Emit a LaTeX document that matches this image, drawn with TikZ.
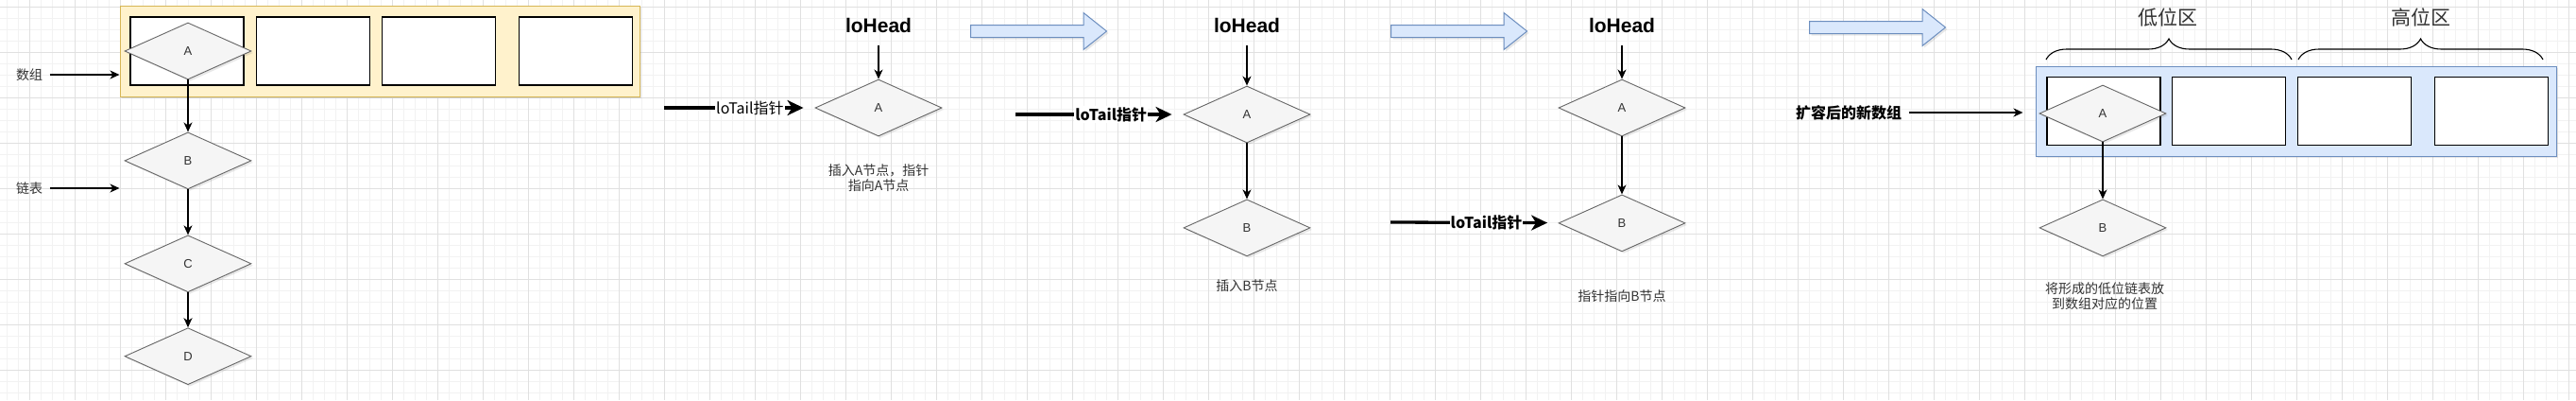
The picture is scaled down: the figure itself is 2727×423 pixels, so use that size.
\documentclass[tikz,border=0pt]{standalone}
\usepackage{fontspec}
\setmainfont{Liberation Sans}
\newfontfamily\cjk{Noto Sans CJK SC}
\usepackage{tikz}
\usetikzlibrary{shapes.geometric,shapes.arrows,arrows.meta,positioning,calc,shadows,decorations.pathreplacing}
\definecolor{GRIDMINOR}{HTML}{F2F2F2}
\definecolor{GRIDMAJOR}{HTML}{E0E0E0}
\definecolor{NODEFILL}{HTML}{F5F5F5}
\definecolor{NODELINE}{HTML}{666666}
\definecolor{TEXTGRAY}{HTML}{333333}
\definecolor{YELLOWFILL}{HTML}{FFF2CC}
\definecolor{YELLOWLINE}{HTML}{D6B656}
\definecolor{BLUEFILL}{HTML}{DAE8FC}
\definecolor{BLUELINE}{HTML}{6C8EBF}
\tikzstyle{ARROW} = [draw, line width=1.2pt, -{Stealth[length=10pt,width=9pt,inset=3pt]}]
\tikzstyle{THICK_ARROW} = [draw, line width=3.3pt, -{Stealth[length=17pt,width=16pt,inset=5pt]}, shorten >=12pt]
\tikzstyle{SHADOW} = [drop shadow={opacity=0.18, shadow xshift=2pt, shadow yshift=-2pt}]

\begin{document}
\begin{tikzpicture}[x=1pt, y=-1pt, node distance=60pt]
% Define
\tikzstyle{DIAMOND_1} = [diamond, draw=NODELINE, fill=NODEFILL, line width=0.9pt, minimum width=134pt, minimum height=60pt, inner sep=0pt, text=TEXTGRAY, font=\fontsize{13}{15}\selectfont, SHADOW]
\tikzstyle{CELL} = [rectangle, draw=black, fill=white, line width=1.2pt, minimum width=120pt, minimum height=72pt, inner sep=0pt]
\tikzstyle{ARRAY_1} = [rectangle, draw=YELLOWLINE, fill=YELLOWFILL, line width=1pt, minimum width=550pt, minimum height=96pt, SHADOW]
\tikzstyle{ARRAY_2} = [rectangle, draw=BLUELINE, fill=BLUEFILL, line width=1pt, minimum width=551pt, minimum height=95pt, SHADOW]
\tikzstyle{BIG_ARROW} = [single arrow, draw=BLUELINE, fill=BLUEFILL, line width=1pt, minimum height=144pt, minimum width=38pt, inner sep=6pt, single arrow head extend=13pt, single arrow tip angle=77, anchor=tail, SHADOW]
\tikzstyle{HEAD_1} = [font=\bfseries\fontsize{21}{25}\selectfont, inner sep=0pt]
\tikzstyle{TEXT_1} = [font=\cjk\fontsize{14}{16}\selectfont, text=TEXTGRAY, align=center]
\tikzstyle{TEXT_2} = [font=\cjk\bfseries\fontsize{16}{18}\selectfont, text=black]
\tikzstyle{ZONE} = [font=\cjk\fontsize{21}{24}\selectfont, text=TEXTGRAY]
\tikzstyle{TAIL_1} = [fill=white, inner sep=1pt, pos=0.57, font=\cjk\fontsize{16}{18}\selectfont]
\tikzstyle{TAIL_2} = [fill=white, inner sep=1pt, pos=0.57, font=\cjk\bfseries\fontsize{16}{18}\selectfont]
\tikzstyle{BRACE} = [draw, line width=1.1pt, decorate, decoration={brace, amplitude=22pt}]
% Grid
\useasboundingbox (0,0) rectangle (2727,423);
\fill [white] (0,0) rectangle (2727,423);
\foreach \x in {7,19,...,2719} \draw [GRIDMINOR, line width=0.8pt] (\x,0) -- (\x,423);
\foreach \y in {7,19,...,415} \draw [GRIDMINOR, line width=0.8pt] (0,\y) -- (2727,\y);
\foreach \x in {31,79,...,2719} \draw [GRIDMAJOR, line width=0.8pt] (\x,0) -- (\x,423);
\foreach \y in {7,55,...,415} \draw [GRIDMAJOR, line width=0.8pt] (0,\y) -- (2727,\y);
% Place node
\node [ARRAY_1] (OLD_ARRAY) at (402,54) {};
\node [CELL] (OLD_1) at (198,54) {};
\node [CELL, right=12pt of OLD_1] (OLD_2) {};
\node [CELL, right=12pt of OLD_2] (OLD_3) {};
\node [CELL, right=24pt of OLD_3] (OLD_4) {};
\node [DIAMOND_1] (A_1) at (199,54) {A};
\node [DIAMOND_1, below=55pt of A_1] (B_1) {B};
\node [DIAMOND_1, below=48pt of B_1] (C_1) {C};
\node [DIAMOND_1, below=37pt of C_1] (D_1) {D};
\node [TEXT_1] (LABEL_OLD) at (31,79) {数组};
\node [TEXT_1] (LABEL_LIST) at (31,199) {链表};
%
\node [HEAD_1] (HEAD_2) at (930,27) {loHead};
\node [DIAMOND_1] (A_2) at (930,114) {A};
\node [TEXT_1] (NOTE_2) at (930,188) {插入A节点，指针\\指向A节点};
\coordinate (TAIL_2) at (703,114);
%
\node [BIG_ARROW] (STEP_1) at (1027,33) {};
\node [HEAD_1] (HEAD_3) at (1320,27) {loHead};
\node [DIAMOND_1] (A_3) at (1320,121) {A};
\node [DIAMOND_1, below=59pt of A_3] (B_3) {B};
\node [TEXT_1] (NOTE_3) at (1320,302) {插入B节点};
\coordinate (TAIL_3) at (1075,121);
%
\node [BIG_ARROW] (STEP_2) at (1472,33) {};
\node [HEAD_1] (HEAD_4) at (1717,27) {loHead};
\node [DIAMOND_1] (A_4) at (1717,114) {A};
\node [DIAMOND_1, below=61pt of A_4] (B_4) {B};
\node [TEXT_1] (NOTE_4) at (1717,313) {指针指向B节点};
\coordinate (TAIL_4) at (1472,235);
%
\node [BIG_ARROW] (STEP_3) at (1915,29) {};
\node [TEXT_2] (LABEL_NEW) at (1957,119) {扩容后的新数组};
\node [ARRAY_2] (NEW_ARRAY) at (2430.5,117.5) {};
\node [CELL] (NEW_1) at (2227,117.5) {};
\node [CELL, right=11pt of NEW_1] (NEW_2) {};
\node [CELL, right=12pt of NEW_2] (NEW_3) {};
\node [CELL, right=24pt of NEW_3] (NEW_4) {};
\node [DIAMOND_1] (A_5) at (2226,120) {A};
\node [DIAMOND_1, below=60pt of A_5] (B_5) {B};
\node [TEXT_1] (NOTE_5) at (2228,313) {将形成的低位链表放\\到数组对应的位置};
\node [ZONE] (LOW) at (2295,18) {低位区};
\node [ZONE] (HIGH) at (2563,18) {高位区};
% LINES and ARROWS
\path [ARROW, shorten <=4pt] (LABEL_OLD) -- (LABEL_OLD -| OLD_ARRAY.west);
\path [ARROW, shorten <=4pt] (LABEL_LIST) -- (LABEL_LIST -| OLD_ARRAY.west);
\path [ARROW] (A_1) -- (B_1);
\path [ARROW] (B_1) -- (C_1);
\path [ARROW] (C_1) -- (D_1);
%
\path [ARROW, shorten <=13pt] (HEAD_2) -- (A_2);
\path [THICK_ARROW] (TAIL_2) -- node [TAIL_1] (TAIL_TEXT_2) {loTail指针} (A_2);
%
\path [ARROW, shorten <=13pt] (HEAD_3) -- (A_3);
\path [ARROW] (A_3) -- (B_3);
\path [THICK_ARROW] (TAIL_3) -- node [TAIL_2] (TAIL_TEXT_3) {loTail指针} (A_3);
%
\path [ARROW, shorten <=13pt] (HEAD_4) -- (A_4);
\path [ARROW] (A_4) -- (B_4);
\path [THICK_ARROW] (TAIL_4) -- node [TAIL_2] (TAIL_TEXT_4) {loTail指针} (B_4);
%
\path [ARROW, shorten <=4pt, shorten >=13pt] (LABEL_NEW) -- (LABEL_NEW -| NEW_ARRAY.west);
\path [ARROW] (A_5) -- (B_5);
\draw [BRACE] (2166,63) -- (2426,63);
\draw [BRACE] (2433,63) -- (2692,63);
\end{tikzpicture}
\end{document}
